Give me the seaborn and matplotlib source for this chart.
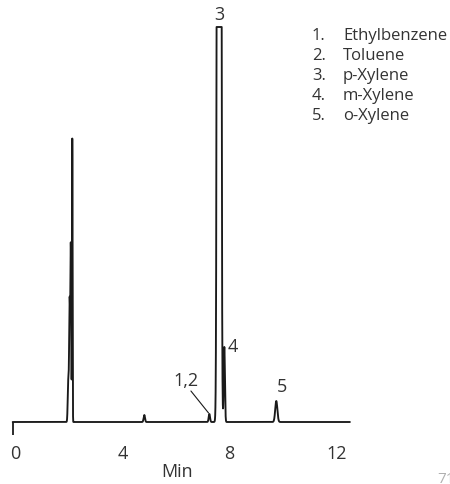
import numpy as np
import pandas as pd
import matplotlib
matplotlib.use("Agg")
import matplotlib.pyplot as plt
from matplotlib.transforms import ScaledTranslation
import seaborn as sns

# Peak table: retention time (min), detector response, peak width (sigma, min)
retention_min = [2.08, 2.13, 2.175, 2.23, 4.925, 7.36, 7.725, 7.92, 9.865]
response = [41, 120, 174, 283, 7, 8, 9700, 75, 21]
sigma_min = [0.02, 0.018, 0.016, 0.010, 0.025, 0.025, 0.0385, 0.022, 0.04]
detector_limit = 395          # response saturates here (flat top of peak 3)
run_end_min = 12.62

tick_positions = [0, 2, 4, 6, 8, 10, 12]
tick_labels = ["0", "", "4", "", "8", "", "12"]

compound_numbers = ["1.", "2.", "3.", "4.", "5."]
compound_names = ["Ethylbenzene", "Toluene", "p-Xylene", "m-Xylene", "o-Xylene"]

# Build the detector trace from the peak table
t = np.arange(0.0, run_end_min + 1e-9, 0.002)
signal = np.zeros_like(t)
for rt, h, s in zip(retention_min, response, sigma_min):
    signal += h * np.exp(-0.5 * ((t - rt) / s) ** 2)
signal = np.minimum(signal, detector_limit)
trace = pd.DataFrame({"Min": t, "Response": signal})

sns.set_theme(style="white")
plt.rcParams["font.family"] = ["Open Sans", "DejaVu Sans"]
TXT = "#333333"
INK = "#1a1a1a"

W, H = 450, 485
fig = plt.figure(figsize=(W / 100, H / 100), dpi=100)
fig.patch.set_facecolor("white")

# axes geometry in pixels: x0 at 12.7 px, 26.72 px per minute, baseline 423 px from top
px_per_min = 26.72
ax_left, ax_w = 12.7, run_end_min * px_per_min
ax_bottom, ax_h = H - 423, detector_limit
ax = fig.add_axes([ax_left / W, ax_bottom / H, ax_w / W, ax_h / H])

sns.lineplot(data=trace, x="Min", y="Response", ax=ax, color=INK,
             linewidth=1.35, estimator=None, sort=False, clip_on=False)
ax.set_xlim(0, run_end_min)
ax.set_ylim(0, detector_limit)
ax.set_facecolor("white")

for side in ["top", "right", "left", "bottom"]:
    ax.spines[side].set_visible(False)
ax.spines["bottom"].set_position(("outward", 8.0))
ax.set_yticks([])
ax.set_ylabel("")
ax.set_xticks(tick_positions)
ax.set_xticklabels(tick_labels)
ax.tick_params(axis="x", direction="out", length=6.5, width=1.1, color=INK,
               pad=1.5, labelsize=13, labelcolor=TXT)
ax.xaxis.get_major_ticks()[0].tick1line.set_visible(False)
shift = ScaledTranslation(3 / 100, 0, fig.dpi_scale_trans)
for lbl in ax.get_xticklabels():
    lbl.set_transform(lbl.get_transform() + shift)

# the run-start marker hangs from the baseline
ax.vlines(0, -13, 0, colors=INK, linewidth=1.3, clip_on=False)

ax.set_xlabel("Min", fontsize=13, color=TXT, va="baseline")
ax.xaxis.set_label_coords(6.14 / run_end_min, -54 / ax_h)

# peak labels
lab_kw = dict(fontsize=13, color=TXT, ha="center", va="baseline")
ax.text(7.72, 403, "3", **lab_kw)
ax.text(8.23, 71, "4", **lab_kw)
ax.text(10.06, 31, "5", **lab_kw)
ax.text(6.47, 37, "1,2", **lab_kw)
ax.plot([6.67, 7.33], [31, 9], color=INK, linewidth=0.8, clip_on=False)

# compound list
for i, (num, name) in enumerate(zip(compound_numbers, compound_names)):
    y = 1 - (40 + 20 * i) / H
    fig.text(312 / W, y, num, fontsize=12, color=TXT, ha="left", va="baseline")
    fig.text(343 / W, y, name, fontsize=12, color=TXT, ha="left", va="baseline")

fig.text(437 / W, 1 - 483 / H, "71", fontsize=11, color="#b0b0b0",
         ha="left", va="baseline")

fig.savefig("out.png", dpi=100, facecolor="white")
